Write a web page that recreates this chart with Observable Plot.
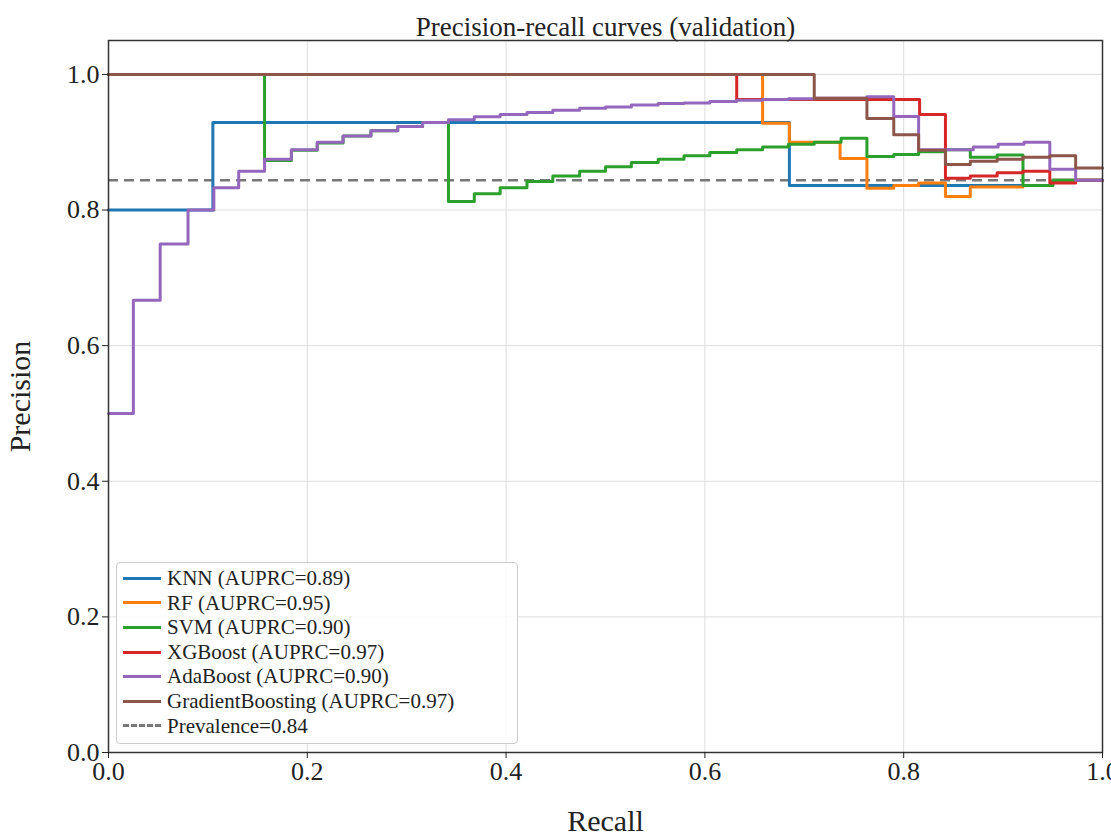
<!DOCTYPE html>
<html><head><meta charset="utf-8">
<script src="https://cdn.jsdelivr.net/npm/d3@7"></script>
<script src="https://cdn.jsdelivr.net/npm/@observablehq/plot@0.6"></script>
<style>
body{margin:0;background:#fff;font-family:"Liberation Serif",serif}
#wrap{position:relative;width:1111px;height:836px}
#legend{position:absolute;left:116px;top:562px;width:402px;height:182px;border:1px solid #ccc;border-radius:4px;background:rgba(255,255,255,0.85);box-sizing:border-box;padding:3px 6px;font-size:21px;line-height:24.6px;color:#222}
.row{display:flex;align-items:center;white-space:nowrap}
.sw{width:38px;height:0;border-top:3px solid;margin-right:6px}
</style></head><body>
<div id="wrap"><div id="legend"></div></div>
<script>
const names = ["KNN","RF","SVM","XGBoost","AdaBoost","GradientBoosting"];
const auprc = [0.89,0.95,0.90,0.97,0.90,0.97];
const colors = ["#1f77b4","#ff7f0e","#2ca02c","#d62728","#9467bd","#8c564b"];
const prevalence = 0.844;
const xTicks = [0,0.2,0.4,0.6,0.8,1.0];
const yTicks = [0,0.2,0.4,0.6,0.8,1.0];
// [recall, precision] step-after points
const knn = [[0,0.8],[0.105,0.929],[0.685,0.836],[0.95,0.844],[1,0.844]];
const rf = [[0,1],[0.658,0.928],[0.685,0.9],[0.736,0.876],[0.763,0.832],[0.79,0.836],[0.815,0.84],[0.842,0.82],[0.867,0.834],[0.92,0.836],[0.95,0.844],[1,0.844]];
const svm = [[0,1],[0.157,0.873],[0.184,0.888],[0.21,0.899],[0.236,0.909],[0.264,0.917],[0.291,0.923],[0.316,0.929],[0.342,0.8125],[0.368,0.824],[0.394,0.833],[0.421,0.842],[0.447,0.85],[0.474,0.857],[0.5,0.864],[0.526,0.87],[0.553,0.875],[0.579,0.88],[0.605,0.885],[0.632,0.889],[0.658,0.893],[0.684,0.897],[0.71,0.9],[0.737,0.906],[0.763,0.879],[0.79,0.882],[0.815,0.886],[0.842,0.889],[0.867,0.878],[0.894,0.881],[0.92,0.836],[0.95,0.844],[1,0.844]];
const xgb = [[0,1],[0.632,0.963],[0.816,0.941],[0.842,0.847],[0.867,0.85],[0.894,0.855],[0.92,0.857],[0.947,0.84],[0.973,0.844],[1,0.844]];
const ada = [[0,0.5],[0.025,0.667],[0.052,0.75],[0.08,0.8],[0.106,0.833],[0.131,0.857],[0.157,0.875],[0.184,0.889],[0.21,0.9],[0.236,0.909],[0.264,0.917],[0.291,0.923],[0.316,0.929],[0.342,0.933],[0.368,0.9375],[0.394,0.941],[0.421,0.944],[0.447,0.947],[0.474,0.95],[0.5,0.952],[0.526,0.955],[0.553,0.957],[0.579,0.958],[0.605,0.96],[0.632,0.962],[0.658,0.963],[0.684,0.964],[0.71,0.965],[0.763,0.967],[0.79,0.938],[0.815,0.889],[0.87,0.893],[0.895,0.897],[0.921,0.9],[0.947,0.86],[0.973,0.844],[1,0.844]];
const gb = [[0,1],[0.71,0.965],[0.763,0.935],[0.79,0.911],[0.815,0.888],[0.842,0.867],[0.867,0.872],[0.894,0.875],[0.92,0.878],[0.947,0.88],[0.973,0.862],[1,0.862]];
const series = [knn,rf,svm,xgb,ada,gb];
const lines = series.map((s,i) => Plot.line(s.map(([r,p])=>({r,p})), {x:"r",y:"p",curve:"step-after",stroke:colors[i],strokeWidth:3}));
const chart = Plot.plot({
  width:1111,height:836,marginLeft:108,marginRight:9,marginTop:40,marginBottom:84,
  style:{fontFamily:"Liberation Serif, serif",fontSize:"26px",color:"#222",background:"white",overflow:"visible"},
  x:{domain:[0,1]},
  y:{domain:[0,1.05]},
  marks:[
    Plot.gridX(xTicks,{stroke:"#ddd",strokeOpacity:1}),
    Plot.gridY(yTicks,{stroke:"#ddd",strokeOpacity:1}),
    Plot.ruleY([prevalence],{stroke:"#777",strokeWidth:2.5,strokeDasharray:"10,6"}),
    ...lines,
    Plot.frame({stroke:"#333",strokeWidth:1.5}),
    Plot.axisX({ticks:xTicks,tickFormat:d3.format(".1f"),label:"Recall",labelArrow:"none",labelAnchor:"center",labelOffset:78,fontSize:26,tickSize:6,tickPadding:3}),
    Plot.axisY({ticks:yTicks,tickFormat:d3.format(".1f"),label:"Precision",labelArrow:"none",labelAnchor:"center",labelOffset:100,fontSize:26,tickSize:6,tickPadding:3}),
    Plot.text(["Precision-recall curves (validation)"],{frameAnchor:"top",dy:-24,fontSize:27,fill:"#222"})
  ]
});
document.getElementById("wrap").prepend(chart);
chart.querySelectorAll("g[aria-label='x-axis label'] text, g[aria-label='y-axis label'] text").forEach(t=>t.setAttribute("font-size","30"));
const lg = document.getElementById("legend");
names.forEach((n,i)=>{lg.insertAdjacentHTML("beforeend",`<div class="row"><span class="sw" style="border-color:${colors[i]}"></span>${n} (AUPRC=${auprc[i].toFixed(2)})</div>`)});
lg.insertAdjacentHTML("beforeend",`<div class="row"><span class="sw" style="border-top:3px dashed #777"></span>Prevalence=${prevalence.toFixed(2)}</div>`);
</script></body></html>
